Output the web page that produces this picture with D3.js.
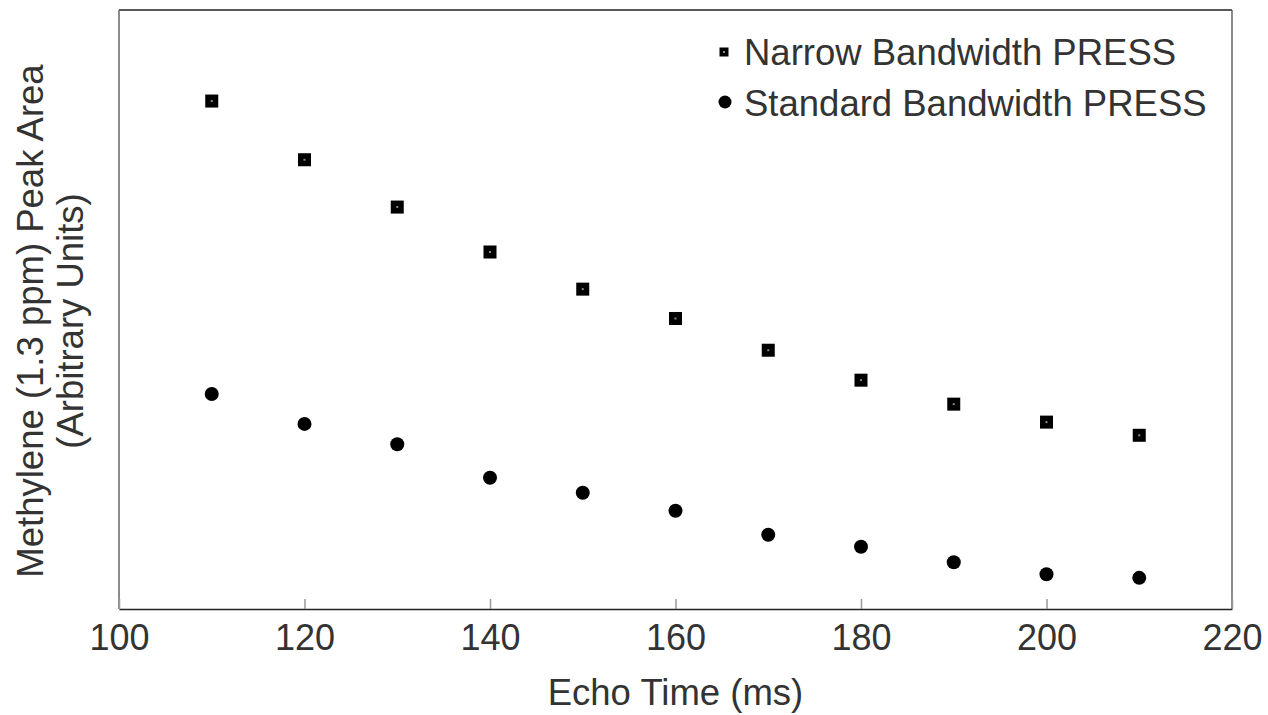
<!DOCTYPE html>
<html>
<head>
<meta charset="utf-8">
<script src="https://d3js.org/d3.v7.min.js"></script>
<style>
    body { margin: 0; background: #fff; }
    text { font-family: "Liberation Sans", Arial, sans-serif; fill: #333; }
</style>
</head>
<body>
<div id="body"></div>
<script>
// echo time (ms) and peak areas (arbitrary units)
var echoTimes = [110, 120, 130, 140, 150, 160, 170, 180, 190, 200, 210];
var narrowArea = [84.8, 75.0, 67.1, 59.6, 53.4, 48.5, 43.2, 38.2, 34.2, 31.2, 29.0];
var standardArea = [35.9, 30.9, 27.5, 21.9, 19.4, 16.4, 12.4, 10.4, 7.8, 5.8, 5.2];
var xTicks = [100, 120, 140, 160, 180, 200, 220];
var seriesNames = ['Narrow Bandwidth PRESS', 'Standard Bandwidth PRESS'];

var width = 1268, height = 715;
var margins = {left: 119, right: 36, top: 10, bottom: 106};

var svg = d3.select('#body')
    .append('svg')
    .attr('width', width)
    .attr('height', height);

var x = d3.scaleLinear().domain([100, 220]).range([margins.left, width - margins.right]);
var y = d3.scaleLinear().domain([0, 100]).range([height - margins.bottom, margins.top]);

// frame
svg.append('line').attr('x1', x(100)).attr('x2', x(220)).attr('y1', y(100)).attr('y2', y(100))
    .attr('stroke', '#222').attr('stroke-width', 1.5);
svg.append('line').attr('x1', x(100)).attr('x2', x(100)).attr('y1', y(100)).attr('y2', y(0))
    .attr('stroke', '#666').attr('stroke-width', 1.5);
svg.append('line').attr('x1', x(220)).attr('x2', x(220)).attr('y1', y(100)).attr('y2', y(0))
    .attr('stroke', '#666').attr('stroke-width', 1.5);

// x axis, ticks pointing inward
var xAxis = d3.axisBottom(x).tickValues(xTicks).tickFormat(d3.format('d'))
    .tickSizeInner(-10).tickSizeOuter(0).tickPadding(15);
var gx = svg.append('g')
    .attr('transform', `translate(0, ${y(0)})`)
    .call(xAxis);
gx.select('.domain').attr('stroke', '#222').attr('stroke-width', 1.5);
gx.selectAll('.tick line').attr('stroke', '#999').attr('stroke-width', 1.5);
gx.selectAll('.tick text').style('font-size', '36px').attr('fill', '#333')
    .style('font-family', '"Liberation Sans", Arial, sans-serif');

// axis titles
svg.append('text')
    .attr('x', (x(100) + x(220)) / 2)
    .attr('y', 705)
    .attr('text-anchor', 'middle')
    .style('font-size', '36.5px')
    .text('Echo Time (ms)');

var yTitle = svg.append('text')
    .attr('transform', 'translate(0, 321) rotate(-90)')
    .attr('text-anchor', 'middle')
    .style('font-size', '36.5px');
yTitle.append('tspan').attr('x', 0).attr('y', 43).text('Methylene (1.3 ppm) Peak Area');
yTitle.append('tspan').attr('x', 0).attr('y', 83).text('(Arbitrary Units)');

// narrow bandwidth: squares
var sq = 13;
var narrow = svg.append('g').selectAll('g.sq')
    .data(echoTimes.map((t, i) => ({t: t, v: narrowArea[i]})))
    .enter().append('g').attr('class', 'sq')
    .attr('transform', d => `translate(${x(d.t)}, ${y(d.v)})`);
narrow.append('rect')
    .attr('x', -sq / 2).attr('y', -sq / 2).attr('width', sq).attr('height', sq)
    .attr('fill', '#000');
narrow.append('rect')
    .attr('x', -1).attr('y', -1).attr('width', 2).attr('height', 2)
    .attr('fill', '#888');

// standard bandwidth: circles
svg.append('g').selectAll('circle')
    .data(echoTimes.map((t, i) => ({t: t, v: standardArea[i]})))
    .enter().append('circle')
    .attr('cx', d => x(d.t))
    .attr('cy', d => y(d.v))
    .attr('r', 7)
    .attr('fill', '#000');

// legend
var legend = svg.append('g').attr('transform', 'translate(724, 0)');
legend.append('rect').attr('x', -4.5).attr('y', 47.5).attr('width', 9).attr('height', 9).attr('fill', '#000');
legend.append('rect').attr('x', -1).attr('y', 51).attr('width', 2).attr('height', 2).attr('fill', '#888');
legend.append('circle').attr('cx', 1).attr('cy', 102).attr('r', 6.5).attr('fill', '#000');
legend.selectAll('text.lbl')
    .data(seriesNames)
    .enter().append('text')
    .attr('class', 'lbl')
    .attr('x', 20)
    .attr('y', (d, i) => 65 + i * 51)
    .style('font-size', '36.5px')
    .text(d => d);
</script>
</body>
</html>
